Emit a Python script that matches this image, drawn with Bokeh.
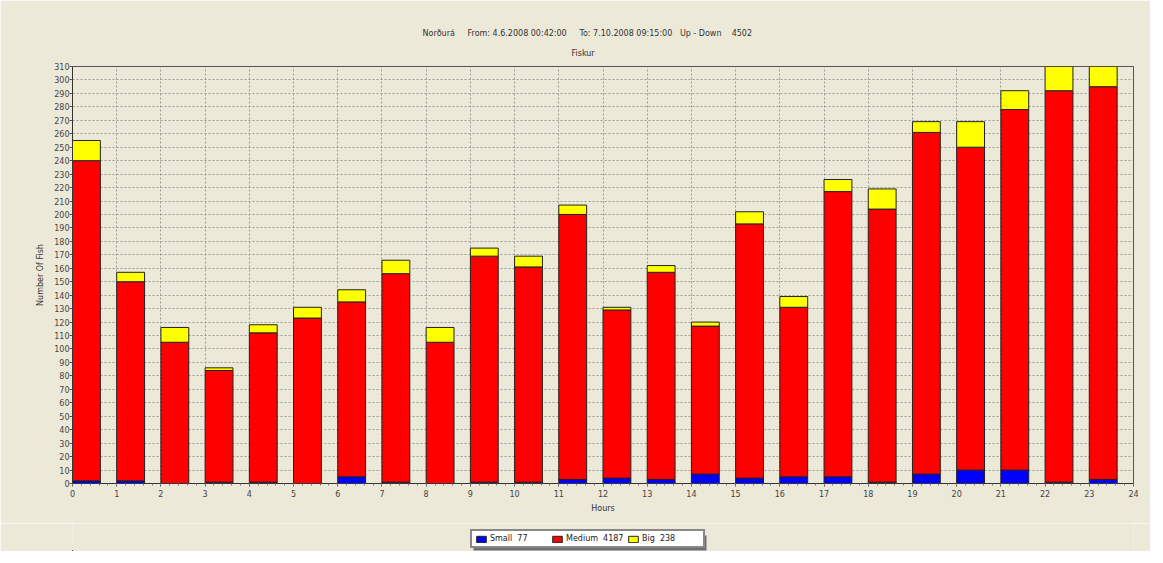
from bokeh.plotting import figure
from bokeh.layouts import column
from bokeh.models import ColumnDataSource, FixedTicker, Title, Legend, LegendItem, Range1d
from bokeh.embed import file_html
from bokeh.resources import INLINE

# ---- data ----
hours = list(range(24))
small = [2, 2, 0, 1, 1, 0, 5, 1, 0, 1, 1, 3, 4, 3, 7, 4, 5, 5, 1, 7, 10, 10, 1, 3]
medium = [238, 148, 105, 83, 111, 123, 130, 155, 105, 168, 160, 197,
          125, 154, 110, 189, 126, 212, 203, 254, 240, 268, 291, 292]
big = [15, 7, 11, 2, 6, 8, 9, 10, 11, 6, 8, 7, 2, 5, 3, 9, 8, 9, 15, 8, 19, 14, 25, 21]
series_names = ["small", "medium", "big"]
series_colors = ["#0000FF", "#FF0000", "#FFFF00"]
legend_labels = ["Small  77", "Medium  4187", "Big  238"]
y_ticks = list(range(0, 311, 10))
x_ticks = list(range(0, 25))
title_text = "Norðurá\u00a0\u00a0\u00a0\u00a0\u00a0From: 4.6.2008 00:42:00\u00a0\u00a0\u00a0\u00a0\u00a0To: 7.10.2008 09:15:00\u00a0\u00a0\u00a0Up - Down\u00a0\u00a0\u00a0\u00a04502"
subtitle_text = "Fiskur"
x_label = "Hours"
y_label = "Number Of Fish"

BG = "#ECE9D8"
FONT = "DejaVu Sans"
W = 1150

src = ColumnDataSource(dict(x=[h + 0.315 for h in hours], small=small, medium=medium, big=big))

p = figure(width=W, height=523, output_backend="svg", toolbar_location=None,
           x_range=Range1d(0, 24), y_range=Range1d(0, 310),
           min_border_left=72, min_border_right=17, min_border_top=66, min_border_bottom=40,
           background_fill_color=BG, border_fill_color=BG,
           title=title_text)

p.title.align = "left"
p.title.text_font = FONT
p.title.text_font_size = "8px"
p.title.text_font_style = "normal"
p.title.text_color = "#333333"
p.title.offset = 350
p.title.standoff = 0

t2 = Title(text=subtitle_text, align="left", text_font=FONT, text_font_size="8px",
           text_font_style="normal", text_color="#333333", offset=499, standoff=18,
           text_line_height=0.4)
p.add_layout(t2, "above")

rs = p.vbar_stack(series_names, x="x", width=0.63, source=src, color=series_colors,
                  line_color="#222222", line_width=1)

p.outline_line_color = "#555555"
p.outline_line_width = 1

p.xaxis.ticker = FixedTicker(ticks=x_ticks, minor_ticks=[i / 5 for i in range(0, 121)])
p.yaxis.ticker = FixedTicker(ticks=y_ticks)
for ax in (p.xaxis[0], p.yaxis[0]):
    ax.major_label_text_font = FONT
    ax.major_label_text_font_size = "8px"
    ax.major_label_text_color = "#444444"
    ax.axis_label_text_font = FONT
    ax.axis_label_text_font_size = "8px"
    ax.axis_label_text_font_style = "normal"
    ax.axis_label_text_color = "#333333"
    ax.axis_line_color = "#333333"
    ax.major_tick_line_color = "#555555"
    ax.minor_tick_line_color = "#777777"
    ax.major_tick_in = 0
    ax.major_tick_out = 3
    ax.minor_tick_in = 0
    ax.minor_tick_out = 2
p.yaxis.minor_tick_line_color = None
p.xaxis.axis_label = x_label
p.yaxis.axis_label = y_label
p.xaxis.major_label_standoff = 3
p.yaxis.major_label_standoff = 0
p.xaxis.axis_label_standoff = 4
p.yaxis.axis_label_standoff = 6

p.xgrid.ticker = FixedTicker(ticks=x_ticks)
p.ygrid.ticker = FixedTicker(ticks=y_ticks)
for g in (p.xgrid[0], p.ygrid[0]):
    g.grid_line_color = "#9a9a9a"
    g.grid_line_dash = "2 2"
    g.grid_line_width = 1

# ---- legend strip below the chart ----
lg = figure(width=W, height=28, output_backend="svg", toolbar_location=None,
            x_range=Range1d(0, 1061), y_range=Range1d(0, 28),
            x_axis_location=None, y_axis_location=None,
            min_border_left=72, min_border_right=17, min_border_top=0, min_border_bottom=0,
            background_fill_color=BG, border_fill_color=BG, outline_line_color=None)
lg.grid.visible = False
# drop shadow behind the legend box
lg.quad(left=[401], right=[634], bottom=[1], top=[16], color="#6e6e6e", line_color=None)
dummy = [lg.vbar(x=[-100], top=[1], width=1, color=c, line_color="#222222") for c in series_colors]

legend = Legend(items=[LegendItem(label=l, renderers=[r]) for l, r in zip(legend_labels, dummy)],
                orientation="horizontal", location=(398, 3),
                label_text_font=FONT, label_text_font_size="8px", label_text_color="#222222",
                glyph_width=12, glyph_height=8, label_standoff=3, spacing=3, label_width=58,
                padding=3, margin=0, background_fill_color="white", background_fill_alpha=1,
                border_line_color="#111111", border_line_width=2, label_height=8)
lg.add_layout(legend, "center")

layout = column(p, lg, spacing=0)
open("out.html", "w").write(file_html(layout, INLINE))
